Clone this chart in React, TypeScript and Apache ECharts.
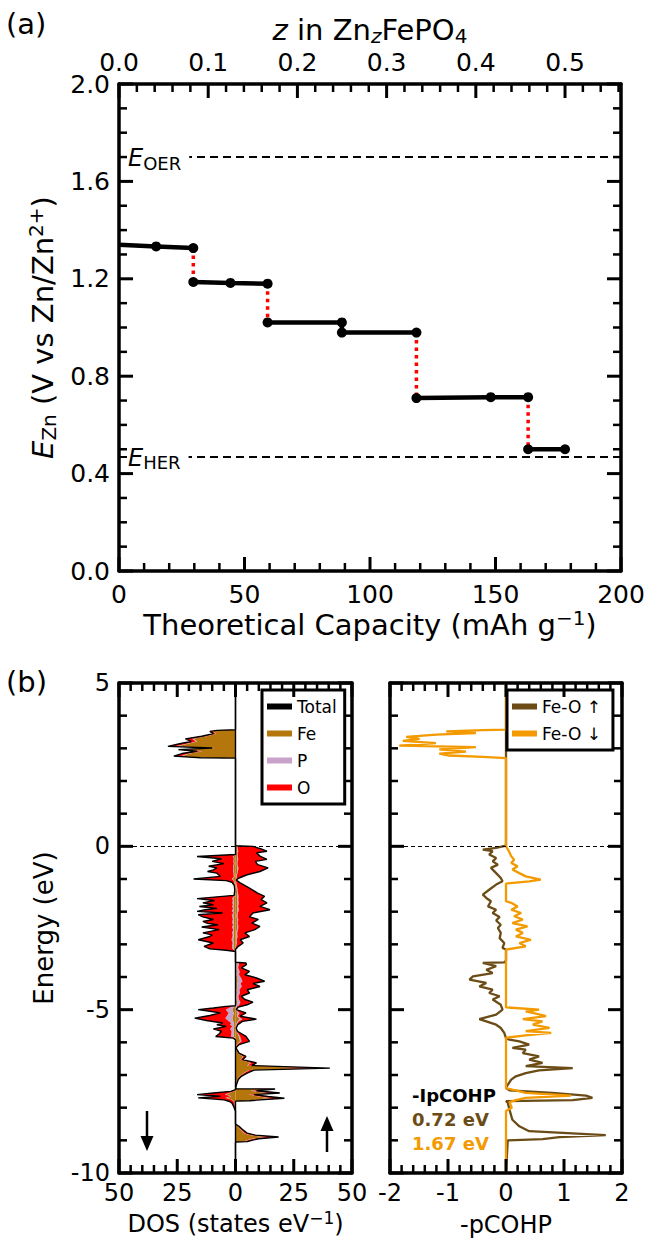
import React, { useEffect, useRef } from 'react';
import * as echarts from 'echarts';

const FONT = 'DejaVu Sans';
const BLACK = '#000000';
const FE_COLOR = '#b5760b';
const P_COLOR = '#c8a2c8';
const O_COLOR = '#ff0000';
const UP_COLOR = '#6b4c16';
const DN_COLOR = '#f39a00';

// ---------------- Panel (a): voltage profile ----------------
const plateauCapacity = [
  [0, 14.8, 29.6],
  [29.6, 44.4, 59.2],
  [59.2, 88.8, 88.8, 118.5],
  [118.5, 148.1, 163.0],
  [163.0, 177.7],
];
const plateauVoltage = [
  [1.340, 1.333, 1.326],
  [1.187, 1.183, 1.180],
  [1.021, 1.021, 0.979, 0.979],
  [0.710, 0.714, 0.714],
  [0.500, 0.500],
];
const eOER = 1.695;
const eHER = 0.465;
const mAhPerZ = 355.4;

// tick positions
const capMajor = [0, 50, 100, 150, 200];
const capMinor = [10, 20, 30, 40, 60, 70, 80, 90, 110, 120, 130, 140, 160, 170, 180, 190];
const voltMajor = [0, 0.4, 0.8, 1.2, 1.6, 2.0];
const voltMinor = [0.1, 0.2, 0.3, 0.5, 0.6, 0.7, 0.9, 1.0, 1.1, 1.3, 1.4, 1.5, 1.7, 1.8, 1.9];
const zMajor = [0, 0.1, 0.2, 0.3, 0.4, 0.5];
const zMinor = [0.02, 0.04, 0.06, 0.08, 0.12, 0.14, 0.16, 0.18, 0.22, 0.24, 0.26, 0.28, 0.32, 0.34, 0.36, 0.38, 0.42, 0.44, 0.46, 0.48, 0.52, 0.54, 0.56];
const dosMajor = [-50, -25, 0, 25, 50];
const dosMinor = [-45, -40, -35, -30, -20, -15, -10, -5, 5, 10, 15, 20, 30, 35, 40, 45];
const energyMajor = [-10, -5, 0, 5];
const energyMinor = [-9, -8, -7, -6, -4, -3, -2, -1, 1, 2, 3, 4];
const cohpMajor = [-2, -1, 0, 1, 2];
const cohpMinor = [-1.8, -1.6, -1.4, -1.2, -0.8, -0.6, -0.4, -0.2, 0.2, 0.4, 0.6, 0.8, 1.2, 1.4, 1.6, 1.8];

// ---------------- Panel (b): DOS (states/eV) ----------------
const eUp = [5.00, 0.02, 0.00, -0.08, -0.15, -0.20, -0.30, -0.40, -0.46, -0.56, -0.66, -0.77, -0.87, -0.97, -1.03, -1.12, -1.28, -1.43, -1.53, -1.63, -1.73, -1.84, -1.94, -2.04, -2.16, -2.24, -2.35, -2.45, -2.55, -2.65, -2.76, -2.86, -2.96, -3.06, -3.16,
  -3.55, -3.57, -3.62, -3.72, -3.83, -3.93, -4.03, -4.13, -4.20, -4.29, -4.39, -4.49, -4.59, -4.69, -4.77, -4.85, -4.92, -5.00, -5.10, -5.20, -5.29, -5.36, -5.46, -5.56, -5.66, -5.82, -5.97, -6.07, -6.17,
  -6.33, -6.43, -6.53, -6.63, -6.71, -6.79, -6.85, -6.94, -7.04, -7.14, -7.30, -7.42, -7.43, -7.48, -7.55, -7.60, -7.66, -7.71, -7.77, -7.79, -7.80,
  -8.50, -8.57, -8.67, -8.78, -8.84, -8.90, -8.95, -9.00, -9.04, -9.05, -10.0];
const feUp = [0, 0, 0.6, 0.7, 0.8, 0.6, 0.7, 0.8, 0.6, 0.6, 0.9, 0.7, 0.5, 0.4, 0.1, 0.3, 0.5, 0.7, 0.8, 0.7, 0.9, 0.7, 0.9, 0.6, 0.5, 0.7, 0.6, 0.7, 0.6, 0.4, 0.5, 0.3, 0.3, 0.2, 0,
  0, 0.5, 0.5, 0.4, 0.6, 0.5, 0.8, 1.0, 0.7, 0.9, 0.5, 0.6, 0.4, 0.5, 0.7, 0.5, 0.2, 0.1, 1.0, 0.6, 1.8, 0.8, 0.3, 0.1, 0.3, 1.5, 2.0, 0.6, 0.1,
  1.0, 3.2, 2.2, 6.5, 5.0, 30.0, 5.8, 3.6, 1.8, 0.9, 0.3, 0, 12.0, 6.5, 13.5, 5.8, 10.0, 15.0, 6.5, 4.3, 0,
  0, 1.1, 2.2, 3.6, 6.0, 13.0, 7.0, 5.0, 3.6, 0, 0];
const pUp = [0, 0, 0.3, 0.3, 0.4, 0.3, 0.3, 0.4, 0.3, 0.3, 0.4, 0.3, 0.2, 0.1, 0.0, 0.1, 0.3, 0.4, 0.5, 0.5, 0.5, 0.4, 0.6, 0.4, 0.4, 0.5, 0.4, 0.5, 0.5, 0.3, 0.4, 0.2, 0.3, 0.1, 0,
  0, 1.0, 1.0, 0.7, 1.2, 1.0, 1.6, 2.0, 1.5, 1.8, 1.2, 1.3, 0.8, 1.0, 1.4, 1.1, 0.4, 0.1, 0.8, 0.4, 1.2, 0.5, 0.2, 0.1, 0.1, 0.5, 0.6, 0.2, 0.0,
  0.1, 0.2, 0.1, 0.3, 0.3, 1.0, 0.3, 0.2, 0.1, 0.0, 0, 0, 0.8, 0.5, 0.8, 0.4, 0.6, 0.9, 0.4, 0.3, 0,
  0, 0.1, 0.2, 0.3, 0.5, 1.0, 0.6, 0.4, 0.3, 0, 0];
const oUp = [0, 0, 6.6, 10.0, 12.3, 8.1, 9.5, 12.3, 7.6, 8.6, 12.7, 9.5, 4.3, 1.0, 0.2, 1.6, 5.2, 8.4, 11.2, 9.8, 12.1, 9.4, 13.3, 6.5, 5.1, 8.6, 6.0, 9.3, 7.2, 3.3, 5.1, 1.5, 2.7, 0.9, 0,
  0, 3.0, 3.2, 1.4, 4.2, 2.5, 6.6, 9.5, 5.3, 7.8, 3.3, 4.1, 1.3, 2.5, 5.4, 3.4, 0.6, 0.1, 2.7, 1.0, 6.0, 1.7, 0.5, 0.1, 0.4, 2.5, 3.4, 0.7, 0.1,
  0.4, 1.1, 0.7, 2.2, 1.7, 9.5, 1.9, 1.2, 0.6, 0.3, 0.1, 0, 4.2, 2.0, 4.7, 1.8, 3.4, 5.1, 2.1, 1.4, 0,
  0, 0.3, 0.6, 1.1, 2.0, 4.5, 2.4, 1.6, 1.1, 0, 0];

const eDn = [5.00, 3.57, 3.55, 3.52, 3.45, 3.37, 3.29, 3.21, 3.14, 3.06, 3.01, 2.96, 2.91, 2.84, 2.76, 2.71, 2.70,
  -0.25, -0.31, -0.38, -0.46, -0.53, -0.61, -0.66, -0.72, -0.77, -0.82, -0.92, -1.00, -1.05, -1.10, -1.20, -1.35, -1.50, -1.60, -1.66, -1.73, -1.79, -1.84, -1.90, -1.94, -1.99, -2.04, -2.09, -2.16, -2.24, -2.30, -2.36, -2.40, -2.47, -2.55, -2.65, -2.71, -2.76, -2.86, -2.96, -3.06, -3.14, -3.18, -3.22,
  -4.88, -4.90, -4.95, -5.00, -5.05, -5.10, -5.18, -5.26, -5.33, -5.41, -5.46, -5.51, -5.59, -5.66, -5.74, -5.82, -5.87, -5.92,
  -7.45, -7.50, -7.55, -7.60, -7.65, -7.70, -7.76, -7.81, -7.86, -7.96, -8.06, -8.10, -10.0];
const feDn = [0, 0, 7.0, 9.6, 8.3, 12.6, 18.2, 16.5, 20.5, 25.0, 8.7, 21.0, 14.3, 19.8, 23.0, 13.0, 0,
  0, 0.9, 0.5, 0.7, 0.5, 0.8, 0.6, 0.7, 0.8, 0.6, 0.5, 1.2, 0.6, 0.5, 0.2, 0.1, 0.2, 1.0, 0.7, 0.9, 0.7, 1.0, 0.6, 0.9, 1.0, 0.5, 1.0, 0.9, 0.7, 0.9, 0.8, 0.6, 0.9, 0.6, 0.9, 0.7, 0.8, 1.0, 0.7, 0.9, 0.8, 0.4, 0,
  0, 0.6, 1.0, 1.4, 1.1, 0.8, 1.0, 1.4, 1.1, 0.7, 0.8, 0.5, 0.9, 0.7, 0.7, 0.8, 0.2, 0,
  0, 0.6, 2.5, 4.0, 1.8, 3.8, 1.5, 0.8, 0.5, 0.3, 0.1, 0, 0];
const pDn = [0, 0, 0.2, 0.3, 0.2, 0.4, 0.5, 0.5, 0.6, 0.7, 0.3, 0.6, 0.4, 0.6, 0.6, 0.4, 0,
  0, 0.3, 0.2, 0.3, 0.2, 0.3, 0.3, 0.3, 0.3, 0.3, 0.2, 0.4, 0.2, 0.1, 0.1, 0.1, 0.1, 0.5, 0.4, 0.5, 0.4, 0.5, 0.4, 0.5, 0.6, 0.3, 0.6, 0.5, 0.4, 0.5, 0.5, 0.4, 0.6, 0.4, 0.6, 0.5, 0.5, 0.7, 0.5, 0.6, 0.5, 0.2, 0,
  0, 1.0, 1.8, 2.8, 2.5, 2.2, 2.6, 3.0, 2.2, 1.2, 1.5, 0.9, 1.4, 1.0, 1.1, 1.2, 0.2, 0,
  0, 0.1, 0.4, 0.6, 0.3, 0.6, 0.2, 0.1, 0.1, 0.0, 0.0, 0, 0];
const oDn = [0, 0, 0.8, 1.1, 1.0, 1.5, 2.8, 2.0, 2.9, 3.3, 1.0, 2.9, 1.8, 2.6, 2.9, 1.6, 0,
  0, 15.3, 5.3, 9.0, 4.3, 10.4, 7.1, 8.5, 10.9, 7.1, 5.8, 16.4, 3.2, 0.9, 0.2, 0.1, 0.3, 15.0, 7.9, 12.6, 8.4, 14.0, 7.0, 11.6, 14.9, 4.7, 14.4, 12.6, 8.4, 12.6, 10.7, 6.5, 13.0, 6.0, 12.5, 8.8, 9.7, 14.3, 8.3, 12.0, 9.7, 3.4, 0,
  0, 2.4, 6.7, 11.8, 7.4, 3.5, 7.4, 13.1, 9.2, 3.6, 5.7, 2.6, 7.2, 4.3, 5.2, 6.5, 0.6, 0,
  0, 1.3, 6.6, 11.9, 4.4, 11.6, 3.3, 1.6, 0.9, 0.5, 0.2, 0, 0];

// ---------------- Panel (b): -pCOHP ----------------
const eCohpUp = [5.0, 0.02, -0.05, -0.10, -0.15, -0.25, -0.36, -0.46, -0.56, -0.66, -0.82, -0.97, -1.07, -1.17, -1.33, -1.48, -1.58, -1.68, -1.84, -1.94, -2.04, -2.16, -2.27, -2.40, -2.50, -2.65, -2.81, -2.96, -3.11, -3.16,
  -3.50, -3.55, -3.57, -3.67, -3.78, -3.88, -3.98, -4.08, -4.18, -4.29, -4.39, -4.49, -4.59, -4.69, -4.85, -5.00, -5.15, -5.29, -5.36, -5.46, -5.56, -5.71, -5.87,
  -5.92, -5.97, -6.07, -6.17, -6.22, -6.33, -6.43, -6.53, -6.63, -6.73, -6.79, -6.86, -6.94, -7.04, -7.14, -7.30, -7.40,
  -7.47, -7.55, -7.63, -7.70, -7.77, -7.80, -7.85, -8.06, -8.37, -8.57, -8.72, -8.84, -8.90, -8.96, -9.00, -10.0];
const cohpUp = [0, 0, -0.17, -0.40, -0.23, -0.29, -0.17, -0.23, -0.14, -0.26, -0.17, -0.09, -0.06, -0.17, -0.29, -0.40, -0.34, -0.26, -0.31, -0.17, -0.23, -0.11, -0.17, -0.09, -0.14, -0.09, -0.11, -0.03, -0.06, 0,
  0, -0.03, -0.40, -0.17, -0.34, -0.23, -0.57, -0.63, -0.34, -0.46, -0.23, -0.29, -0.11, -0.23, -0.09, -0.06, -0.17, -0.46, -0.34, -0.17, -0.09, -0.03, 0,
  0.06, 0.23, 0.40, 0.11, 0.34, 0.29, 0.57, 0.40, 0.63, 0.34, 1.15, 0.57, 0.34, 0.17, 0.09, 0.03, 0,
  0.06, 0.80, 1.38, 1.49, 1.15, 0.0, 0.03, 0.06, 0.11, 0.23, 0.40, 1.72, 0.92, 0.63, 0.03, 0];
const eCohpDn = [5.0, 3.57, 3.56, 3.52, 3.47, 3.42, 3.35, 3.29, 3.23, 3.16, 3.08, 3.04, 2.97, 2.90, 2.84, 2.78, 2.74, 2.70,
  0.0, -0.15, -0.30, -0.41, -0.51, -0.61, -0.71, -0.82, -0.92, -1.02, -1.07, -1.14,
  -1.68, -1.73, -1.84, -1.94, -2.04, -2.14, -2.24, -2.35, -2.45, -2.55, -2.65, -2.76, -2.86, -2.96, -3.06, -3.16,
  -4.93, -5.00, -5.05, -5.10, -5.20, -5.29, -5.36, -5.46, -5.56, -5.66, -5.71, -5.79, -5.86,
  -7.40, -7.45, -7.55, -7.63, -7.70, -7.77, -7.83, -8.00, -8.10, -10.0];
const cohpDn = [0, 0, -0.40, -1.03, -0.52, -1.20, -1.72, -1.49, -1.78, -1.21, -1.84, -0.52, -1.15, -0.69, -1.15, -0.98, -0.40, 0,
  0, 0.05, 0.09, 0.14, 0.09, 0.20, 0.11, 0.23, 0.34, 0.60, 0.40, 0,
  0, 0.09, 0.20, 0.09, 0.26, 0.14, 0.29, 0.11, 0.37, 0.17, 0.29, 0.17, 0.43, 0.23, 0.34, 0,
  0, 0.57, 0.34, 0.46, 0.69, 0.29, 0.63, 0.46, 0.75, 0.34, 0.78, 0.34, 0,
  0, 0.11, 0.34, 1.12, 0.34, 0.17, 0.06, 0.10, 0, 0];
const ipcohpUp = '0.72 eV';
const ipcohpDn = '1.67 eV';

// ---------------- helpers ----------------
const addArrays = (...arrs: number[][]) => arrs[0].map((_, i) => arrs.reduce((s, a) => s + a[i], 0));
const zeros = (n: number) => new Array(n).fill(0);

const stackUp = { fe: [zeros(eUp.length), feUp], p: [feUp, pUp], o: [addArrays(feUp, pUp), oUp] };
const stackDn = { fe: [zeros(eDn.length), feDn], p: [feDn, pDn], o: [addArrays(feDn, pDn), oDn] };
const totUp = addArrays(feUp, pUp, oUp);
const totDn = addArrays(feDn, pDn, oDn);

function polyPoints(api: any, e: number[], base: number[], val: number[], sign: number) {
  const pts: number[][] = [];
  for (let i = 0; i < e.length; i++) pts.push(api.coord([sign * (base[i] + val[i]), e[i]]));
  for (let i = e.length - 1; i >= 0; i--) pts.push(api.coord([sign * base[i], e[i]]));
  return pts;
}

function fillSeries(name: string, key: 'fe' | 'p' | 'o', color: string) {
  return {
    name,
    type: 'custom',
    xAxisIndex: 2,
    yAxisIndex: 2,
    silent: true,
    itemStyle: { color },
    data: [[0, 0]],
    renderItem: (_params: any, api: any) => ({
      type: 'group',
      children: [
        { type: 'polygon', shape: { points: polyPoints(api, eUp, stackUp[key][0], stackUp[key][1], 1) }, style: { fill: color } },
        { type: 'polygon', shape: { points: polyPoints(api, eDn, stackDn[key][0], stackDn[key][1], -1) }, style: { fill: color } },
      ],
    }),
    z: 2,
  };
}

function axis(opts: any) {
  const {
    gridIndex, position, min, max, interval, labels, labelSize = 24, margin = 9,
    formatter, name, nameGap, nameStyle,
  } = opts;
  const a: any = {
    type: 'value',
    gridIndex,
    position,
    min,
    max,
    interval,
    axisLine: { show: true, onZero: false, lineStyle: { color: BLACK, width: 3.5 } },
    axisTick: { show: false },
    minorTick: { show: false },
    splitLine: { show: false },
    minorSplitLine: { show: false },
    axisLabel: { show: !!labels, margin, fontSize: labelSize, fontFamily: FONT, color: BLACK },
  };
  if (formatter) a.axisLabel.formatter = formatter;
  if (name) {
    a.name = name;
    a.nameLocation = 'middle';
    a.nameGap = nameGap;
    a.nameTextStyle = nameStyle;
  }
  return a;
}

const richCommon = (size: number) => ({
  it: { fontSize: size, fontStyle: 'italic', fontFamily: FONT, color: BLACK },
  sub: { fontSize: Math.round(size * 0.7), fontFamily: FONT, color: BLACK, padding: [Math.round(size * 0.4), 0, 0, 0] },
  subit: { fontSize: Math.round(size * 0.7), fontStyle: 'italic', fontFamily: FONT, color: BLACK, padding: [Math.round(size * 0.4), 0, 0, 0] },
  sup: { fontSize: Math.round(size * 0.7), fontFamily: FONT, color: BLACK, padding: [0, 0, Math.round(size * 0.5), 0] },
});

const zLabel = (v: number) => {
  const k = v / 0.1;
  return Math.abs(k - Math.round(k)) < 1e-6 ? v.toFixed(1) : '';
};

function buildOption() {
  const zMax = 200 / mAhPerZ;
  const series: any[] = [];

  plateauCapacity.forEach((caps, k) => {
    const data = caps.map((c, i) => (k === 0 && i === 0 ? { value: [c, plateauVoltage[k][i]], symbol: 'none' } : [c, plateauVoltage[k][i]]));
    series.push({
      type: 'line', xAxisIndex: 0, yAxisIndex: 0, data, symbol: 'circle', symbolSize: 10,
      itemStyle: { color: BLACK }, lineStyle: { color: BLACK, width: 4.5 }, z: 5, silent: true,
    });
    if (k < plateauCapacity.length - 1) {
      const lastI = caps.length - 1;
      series.push({
        type: 'line', xAxisIndex: 0, yAxisIndex: 0, symbol: 'none', z: 4, silent: true,
        data: [[caps[lastI], plateauVoltage[k][lastI]], [plateauCapacity[k + 1][0], plateauVoltage[k + 1][0]]],
        lineStyle: { color: '#ff0000', width: 3.5, type: [3.5, 4] },
      });
    }
  });
  series.push({
    type: 'line', xAxisIndex: 0, yAxisIndex: 0, data: [], silent: true,
    markLine: {
      silent: true, symbol: ['none', 'none'], label: { show: false },
      lineStyle: { color: BLACK, width: 1.8, type: [8, 5] },
      data: [{ yAxis: eOER }, { yAxis: eHER }],
    },
  });

  series.push(fillSeries('Fe', 'fe', FE_COLOR));
  series.push(fillSeries('P', 'p', P_COLOR));
  series.push(fillSeries('O', 'o', O_COLOR));
  series.push({
    name: 'Total', type: 'line', xAxisIndex: 2, yAxisIndex: 2, symbol: 'none', silent: true, z: 3,
    itemStyle: { color: BLACK }, lineStyle: { color: BLACK, width: 1.4 },
    data: eUp.map((e, i) => [totUp[i], e]),
    markLine: {
      silent: true, symbol: ['none', 'none'], label: { show: false },
      lineStyle: { color: BLACK, width: 1, type: [4, 3] }, data: [{ yAxis: 0 }],
    },
  });
  series.push({
    name: 'Total', type: 'line', xAxisIndex: 2, yAxisIndex: 2, symbol: 'none', silent: true, z: 3,
    itemStyle: { color: BLACK }, lineStyle: { color: BLACK, width: 1.4 },
    data: eDn.map((e, i) => [-totDn[i], e]),
  });

  series.push({
    name: 'Fe-O ↑', type: 'line', xAxisIndex: 4, yAxisIndex: 4, symbol: 'none', silent: true, z: 3,
    itemStyle: { color: UP_COLOR }, lineStyle: { color: UP_COLOR, width: 2.3 },
    data: eCohpUp.map((e, i) => [cohpUp[i], e]),
    markLine: {
      silent: true, symbol: ['none', 'none'], label: { show: false },
      lineStyle: { color: BLACK, width: 1, type: [4, 3] }, data: [{ yAxis: 0 }],
    },
  });
  series.push({
    name: 'Fe-O ↓', type: 'line', xAxisIndex: 4, yAxisIndex: 4, symbol: 'none', silent: true, z: 4,
    itemStyle: { color: DN_COLOR }, lineStyle: { color: DN_COLOR, width: 2.3 },
    data: eCohpDn.map((e, i) => [cohpDn[i], e]),
  });

  const legendCommon = {
    orient: 'vertical', icon: 'rect', itemWidth: 25, itemHeight: 6, itemGap: 10, selectedMode: false,
    backgroundColor: '#ffffff', borderColor: BLACK, borderWidth: 3, borderRadius: 0,
    textStyle: { fontSize: 17, fontFamily: FONT, color: BLACK }, padding: [8, 8, 8, 5], z: 20,
  };

  return {
    animation: false,
    backgroundColor: '#ffffff',
    grid: [
      { left: 119, top: 84, width: 502, height: 487 },
      { left: 119, top: 683, width: 233, height: 490 },
      { left: 390, top: 683, width: 232, height: 490 },
    ],
    xAxis: [
      axis({
        gridIndex: 0, position: 'bottom', min: 0, max: 200, interval: 50, labels: true, labelSize: 25, margin: 11,
        name: 'Theoretical Capacity (mAh g{sup|−1})', nameGap: 36,
        nameStyle: { fontSize: 29, fontFamily: FONT, color: BLACK, rich: richCommon(29) },
      }),
      axis({
        gridIndex: 0, position: 'top', min: 0, max: zMax, interval: 0.1, labels: true, labelSize: 25, margin: 9,
        formatter: zLabel,
        name: '{it|z} in Zn{subit|z}FePO{sub|4}', nameGap: 38,
        nameStyle: { fontSize: 29, fontFamily: FONT, color: BLACK, rich: richCommon(29) },
      }),
      axis({
        gridIndex: 1, position: 'bottom', min: -50, max: 50, interval: 25, labels: true, labelSize: 24, margin: 8,
        formatter: (v: number) => String(Math.abs(v)),
        name: 'DOS (states eV{sup|−1})', nameGap: 36,
        nameStyle: { fontSize: 24, fontFamily: FONT, color: BLACK, rich: richCommon(24) },
      }),
      axis({ gridIndex: 1, position: 'top', min: -50, max: 50, interval: 25 }),
      axis({
        gridIndex: 2, position: 'bottom', min: -2, max: 2, interval: 1, labels: true, labelSize: 24, margin: 8,
        name: '-pCOHP', nameGap: 40,
        nameStyle: { fontSize: 24, fontFamily: FONT, color: BLACK },
      }),
      axis({ gridIndex: 2, position: 'top', min: -2, max: 2, interval: 1 }),
    ],
    yAxis: [
      axis({
        gridIndex: 0, position: 'left', min: 0, max: 2, interval: 0.4, labels: true, labelSize: 25, margin: 9,
        formatter: (v: number) => v.toFixed(1),
        name: '{it|E}{sub|Zn} (V vs Zn/Zn{sup|2+})', nameGap: 58,
        nameStyle: { fontSize: 29, fontFamily: FONT, color: BLACK, rich: richCommon(29) },
      }),
      axis({ gridIndex: 0, position: 'right', min: 0, max: 2, interval: 0.4 }),
      axis({
        gridIndex: 1, position: 'left', min: -10, max: 5, interval: 5, labels: true, labelSize: 24, margin: 9,
        name: 'Energy (eV)', nameGap: 62,
        nameStyle: { fontSize: 26, fontFamily: FONT, color: BLACK },
      }),
      axis({ gridIndex: 1, position: 'right', min: -10, max: 5, interval: 5 }),
      axis({ gridIndex: 2, position: 'left', min: -10, max: 5, interval: 5 }),
      axis({ gridIndex: 2, position: 'right', min: -10, max: 5, interval: 5 }),
    ],
    legend: [
      { ...legendCommon, left: 262, top: 690, data: ['Total', 'Fe', 'P', 'O'] },
      { ...legendCommon, left: 507, top: 690, padding: [8, 12, 8, 5], data: ['Fe-O ↑', 'Fe-O ↓'] },
    ],
    series,
  };
}

export default function App() {
  const ref = useRef<HTMLDivElement>(null);
  useEffect(() => {
    if (!ref.current) return;
    const chart = echarts.init(ref.current, null, { renderer: 'svg' });
    chart.setOption(buildOption() as any);

    const px = (xi: number, v: number) => chart.convertToPixel({ xAxisIndex: xi } as any, v) as number;
    const py = (yi: number, v: number) => chart.convertToPixel({ yAxisIndex: yi } as any, v) as number;

    // inward tick marks, placed with the axes' own scales
    const ticks: any[] = [];
    const tickRect = (x: number, y: number, w: number, h: number) =>
      ticks.push({ type: 'rect', z: 90, silent: true, shape: { x, y, width: w, height: h }, style: { fill: BLACK } });
    const MAJ = 14, MIN = 8, WMAJ = 3, WMIN = 2.5;
    const xTicks = (xi: number, major: number[], minor: number[], yEdge: number, dir: number) => {
      [[major, MAJ, WMAJ], [minor, MIN, WMIN]].forEach(([vals, len, w]: any) => vals.forEach((v: number) => {
        const x = px(xi, v);
        tickRect(x - w / 2, dir > 0 ? yEdge : yEdge - len, w, len);
      }));
    };
    const yTicks = (yi: number, major: number[], minor: number[], xEdge: number, dir: number) => {
      [[major, MAJ, WMAJ], [minor, MIN, WMIN]].forEach(([vals, len, w]: any) => vals.forEach((v: number) => {
        const y = py(yi, v);
        tickRect(dir > 0 ? xEdge : xEdge - len, y - w / 2, len, w);
      }));
    };
    const zMax = 200 / mAhPerZ;
    // panel (a)
    xTicks(0, capMajor, capMinor, py(0, 0), -1);
    xTicks(1, zMajor, zMinor, py(0, 2), 1);
    yTicks(0, voltMajor, voltMinor, px(0, 0), 1);
    yTicks(1, voltMajor, voltMinor, px(0, 200), -1);
    // DOS
    xTicks(2, dosMajor, dosMinor, py(2, -10), -1);
    xTicks(3, dosMajor, dosMinor, py(2, 5), 1);
    yTicks(2, energyMajor, energyMinor, px(2, -50), 1);
    yTicks(3, energyMajor, energyMinor, px(2, 50), -1);
    // COHP
    xTicks(4, cohpMajor, cohpMinor, py(4, -10), -1);
    xTicks(5, cohpMajor, cohpMinor, py(4, 5), 1);
    yTicks(4, energyMajor, energyMinor, px(4, -2), 1);
    yTicks(5, energyMajor, energyMinor, px(4, 2), -1);
    void zMax;

    const eLabelRich = {
      it: { fontSize: 24, fontStyle: 'italic', fontFamily: FONT, fill: BLACK },
      sub: { fontSize: 18, fontFamily: FONT, fill: BLACK, padding: [10, 0, 0, 0] },
    };
    const textStyle = (text: string, size: number, color: string, weight = 'normal') => ({
      text, fontSize: size, fontFamily: FONT, fill: color, fontWeight: weight, verticalAlign: 'middle', align: 'left',
    });
    const yO = py(0, eOER);
    const yH = py(0, eHER);
    chart.setOption({
      graphic: {
        elements: [
          ...ticks,
          { type: 'text', x: 6, y: 24, z: 100, style: textStyle('(a)', 29, BLACK) },
          { type: 'text', x: 6, y: 682, z: 100, style: textStyle('(b)', 29, BLACK) },
          {
            type: 'text', x: 128, y: yO, z: 100,
            style: { text: '{it|E}{sub|OER}', rich: eLabelRich, backgroundColor: '#ffffff', padding: [0, 8, 0, 0], verticalAlign: 'middle', align: 'left' },
          },
          {
            type: 'text', x: 128, y: yH, z: 100,
            style: { text: '{it|E}{sub|HER}', rich: eLabelRich, backgroundColor: '#ffffff', padding: [0, 8, 0, 0], verticalAlign: 'middle', align: 'left' },
          },
          { type: 'line', z: 100, shape: { x1: 147, y1: 1111, x2: 147, y2: 1138 }, style: { stroke: BLACK, lineWidth: 2.5 } },
          { type: 'polygon', z: 100, shape: { points: [[140.5, 1136], [153.5, 1136], [147, 1151]] }, style: { fill: BLACK } },
          { type: 'line', z: 100, shape: { x1: 327, y1: 1128, x2: 327, y2: 1152 }, style: { stroke: BLACK, lineWidth: 2.5 } },
          { type: 'polygon', z: 100, shape: { points: [[320.5, 1131], [333.5, 1131], [327, 1116]] }, style: { fill: BLACK } },
          { type: 'text', x: 412, y: 1095, z: 100, style: textStyle('-IpCOHP', 18, BLACK, 'bold') },
          { type: 'text', x: 412, y: 1119, z: 100, style: textStyle(ipcohpUp, 18, UP_COLOR, 'bold') },
          { type: 'text', x: 412, y: 1143, z: 100, style: textStyle(ipcohpDn, 18, DN_COLOR, 'bold') },
        ],
      },
    } as any);
    return () => chart.dispose();
  }, []);
  return <div ref={ref} style={{ position: 'absolute', left: 0, top: 0, width: 649, height: 1249 }} />;
}
